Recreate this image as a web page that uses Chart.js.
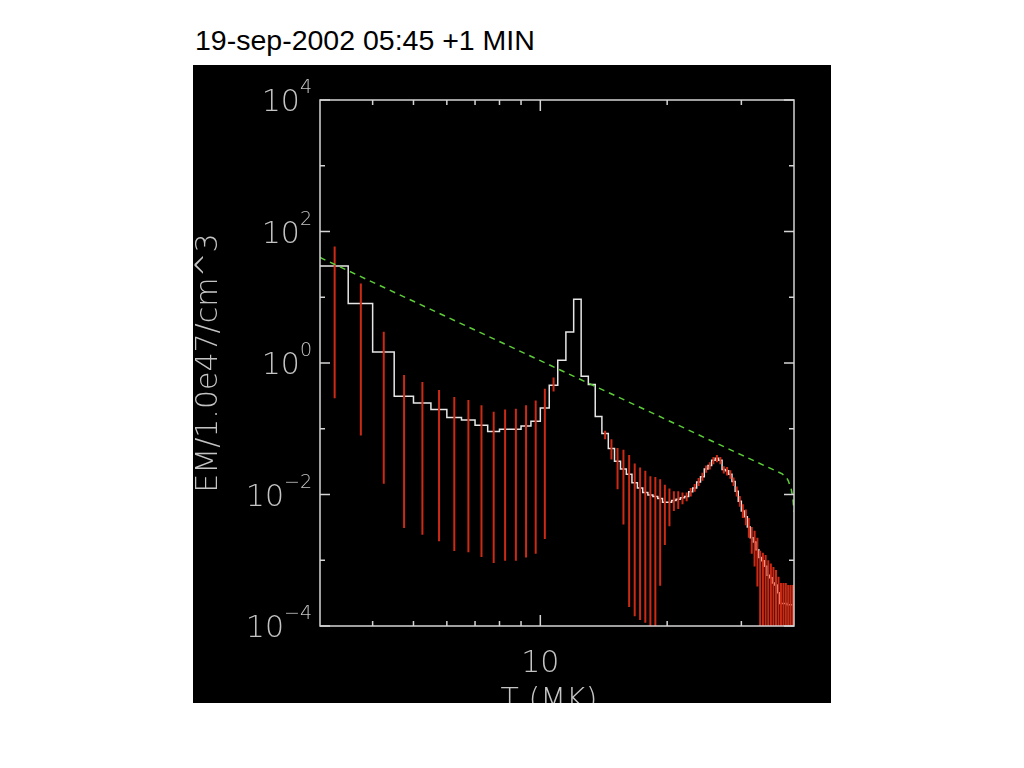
<!DOCTYPE html>
<html>
<head>
<meta charset="utf-8">
<script src="https://cdn.jsdelivr.net/npm/chart.js@4.4.1/dist/chart.umd.min.js"></script>
<style>
  html, body { margin: 0; background: #fff; }
  #title { position: absolute; left: 195px; top: 24px; font: 28.5px "Liberation Sans", Arial, sans-serif; color: #000; white-space: nowrap; }
  #plot { position: absolute; left: 193px; top: 65px; width: 638px; height: 638px; background: #000; }
</style>
</head>
<body>
<div id="title">19-sep-2002 05:45 +1 MIN</div>
<div id="plot"><canvas id="emChart" width="638" height="638"></canvas></div>
<script>
// bin centres (MK), bins are 0.5 MK wide
const binWidth = 0.5;
const tempMK = [3.25, 3.75, 4.25, 4.75, 5.25, 5.75, 6.25, 6.75, 7.25, 7.75,
    8.25, 8.75, 9.25, 9.75, 10.25, 10.75, 11.25, 11.75, 12.25, 12.75,
    13.25, 13.75, 14.25, 14.75, 15.25, 15.75, 16.25, 16.75, 17.25, 17.75,
    18.25, 18.75, 19.25, 19.75, 20.25, 20.75, 21.25, 21.75, 22.25, 22.75,
    23.25, 23.75, 24.25, 24.75, 25.25, 25.75, 26.25, 26.75, 27.25, 27.75,
    28.25, 28.75, 29.25, 29.75, 30.25, 30.75, 31.25, 31.75, 32.25, 32.75,
    33.25, 33.75, 34.25, 34.75, 35.25, 35.75, 36.25, 36.75, 37.25, 37.75,
    38.25, 38.75, 39.25, 39.75];

// EM per bin (units of 1e47 cm^-3)
const emValues = [29.9, 8.0, 1.47, 0.311, 0.246, 0.197, 0.148, 0.136, 0.113, 0.091,
    0.098, 0.098, 0.110, 0.130, 0.207, 0.458, 1.10, 2.96, 9.3, 0.63,
    0.469, 0.153, 0.085, 0.050, 0.032, 0.0245, 0.0204, 0.0151, 0.0126, 0.0107,
    0.0098, 0.0093, 0.0087, 0.0076, 0.0076, 0.0081, 0.0085, 0.0089, 0.0093, 0.0110,
    0.0126, 0.0155, 0.0186, 0.0245, 0.0275, 0.0331, 0.0355, 0.0331, 0.0240, 0.0229,
    0.0204, 0.0158, 0.0112, 0.0079, 0.0056, 0.0046, 0.0032, 0.0022, 0.0019, 0.00145,
    0.0011, 0.00098, 0.00081, 0.00059, 0.00054, 0.00045, 0.00042, 0.00032, 0.00022, 0.00022,
    0.00022, 0.00021, 0.00021, 0.00021];

// error bar ends
const errLow = [0.29, 0.079, 0.0146, 0.0031, 0.00245, 0.00195, 0.00138, 0.00132, 0.00112, 0.00091,
    0.00098, 0.00098, 0.0011, 0.00126, 0.0021, 0.367, 1.10, 2.96, 9.3, 0.63,
    0.469, 0.153, 0.069, 0.034, 0.012, 0.0035, 0.000195, 0.000141, 0.000123, 0.000112,
    0.00006, 0.00006, 0.00041, 0.0017, 0.0033, 0.0056, 0.0060, 0.0071, 0.0079, 0.0093,
    0.011, 0.0135, 0.0162, 0.0214, 0.024, 0.0288, 0.031, 0.0288, 0.0209, 0.0195,
    0.0174, 0.0135, 0.0093, 0.0065, 0.0044, 0.0034, 0.0022, 0.00126, 0.0008, 0.0004,
    0.00003, 0.00003, 0.00003, 0.00003, 0.00003, 0.00003, 0.00003, 0.00003, 0.00003, 0.00003,
    0.00003, 0.00003, 0.00003, 0.00003];
const errHigh = [59, 16.2, 3.0, 0.656, 0.514, 0.388, 0.304, 0.274, 0.227, 0.182,
    0.197, 0.202, 0.227, 0.270, 0.407, 0.60, 1.10, 2.96, 9.3, 0.63,
    0.469, 0.153, 0.093, 0.069, 0.051, 0.048, 0.040, 0.0295, 0.0257, 0.0229,
    0.019, 0.0184, 0.017, 0.0141, 0.0123, 0.0112, 0.0112, 0.0107, 0.0107, 0.0126,
    0.0145, 0.0178, 0.0214, 0.0275, 0.031, 0.0372, 0.040, 0.0372, 0.0269, 0.0263,
    0.0234, 0.0182, 0.0132, 0.0095, 0.0071, 0.0059, 0.0044, 0.0032, 0.0028, 0.0022,
    0.0014, 0.0013, 0.0012, 0.0010, 0.00089, 0.00079, 0.00071, 0.00056, 0.00045, 0.00045,
    0.00045, 0.00042, 0.00042, 0.00042];

// green dashed curve
const fitT = [3.0, 10, 20, 30, 37.5, 38.4, 38.8, 39.4, 39.75, 40.0];
const fitEM = [40.2, 1.085, 0.136, 0.040, 0.0206, 0.0180, 0.0160, 0.0120, 0.0090, 0.0055];

// axis ticks
const xRange = [3, 40];
const yRange = [1e-4, 1e4];
const xMajorTicks = [10];
const xMinorTicks = [4, 5, 6, 7, 8, 9, 20, 30];
const yMajorExp = [-4, -2, 0, 2, 4];
const yMinorExp = [-3, -1, 1, 3];

const axisColor = '#d4d4d4';
const labelColor = '#c4c4c4';
const thinFont = '"DejaVu Sans", sans-serif';

document.addEventListener('DOMContentLoaded', () => {
    const ctx = document.getElementById('emChart').getContext('2d');

    // histogram: one point per left bin edge, plus the closing right edge
    const stepData = tempMK.map((t, i) => ({ x: t - binWidth / 2, y: emValues[i] }));
    stepData.push({ x: tempMK[tempMK.length - 1] + binWidth / 2, y: emValues[emValues.length - 1] });

    const errData = [];
    tempMK.forEach((t, i) => {
        errData.push({ x: t, y: errLow[i] }, { x: t, y: errHigh[i] }, { x: t, y: null });
    });

    const fitData = fitT.map((t, i) => ({ x: t, y: fitEM[i] }));

    // IDL style box, inward ticks and labels
    const idlFrame = {
        id: 'idlFrame',
        afterDatasetsDraw(chart) {
            const { ctx, chartArea: a, scales: { x, y } } = chart;
            ctx.save();
            ctx.strokeStyle = axisColor;
            ctx.lineWidth = 1.5;
            ctx.strokeRect(a.left, a.top, a.right - a.left, a.bottom - a.top);

            ctx.beginPath();
            const xTick = (v, len) => {
                const px = x.getPixelForValue(v);
                ctx.moveTo(px, a.bottom); ctx.lineTo(px, a.bottom - len);
                ctx.moveTo(px, a.top); ctx.lineTo(px, a.top + len);
            };
            const yTick = (v, len) => {
                const py = y.getPixelForValue(v);
                ctx.moveTo(a.left, py); ctx.lineTo(a.left + len, py);
                ctx.moveTo(a.right, py); ctx.lineTo(a.right - len, py);
            };
            xMajorTicks.forEach(v => xTick(v, 11));
            xMinorTicks.forEach(v => xTick(v, 5));
            yMajorExp.forEach(e => yTick(Math.pow(10, e), 10));
            yMinorExp.forEach(e => yTick(Math.pow(10, e), 5));
            ctx.stroke();

            ctx.fillStyle = labelColor;
            const baseFont = '200 30px ' + thinFont;
            const expFont = '200 19px ' + thinFont;

            // y labels 10^n
            yMajorExp.forEach(e => {
                const py = y.getPixelForValue(Math.pow(10, e));
                const expText = String(e).replace('-', '\u2212');
                ctx.font = expFont;
                const wExp = ctx.measureText(expText).width;
                ctx.font = baseFont;
                const wBase = ctx.measureText('10').width;
                const right = a.left - 8;
                ctx.textAlign = 'left';
                ctx.textBaseline = 'alphabetic';
                ctx.fillText('10', right - wExp - wBase, py + 11);
                ctx.font = expFont;
                ctx.fillText(expText, right - wExp, py - 7);
            });

            // x labels
            ctx.font = baseFont;
            ctx.textAlign = 'center';
            xMajorTicks.forEach(v => {
                ctx.fillText(String(v), x.getPixelForValue(v), a.bottom + 46);
            });

            // axis titles
            ctx.fillText('T (MK)', (a.left + a.right) / 2 - 8, a.bottom + 83);
            ctx.translate(24, (a.top + a.bottom) / 2);
            ctx.rotate(-Math.PI / 2);
            ctx.fillText('EM/1.0e47/cm^3', 0, 0);
            ctx.restore();
        }
    };

    new Chart(ctx, {
        type: 'line',
        data: {
            datasets: [
                {
                    label: 'fit',
                    data: fitData,
                    borderColor: '#5ccc38',
                    borderWidth: 1.5,
                    borderDash: [6, 5],
                    pointRadius: 0,
                    tension: 0,
                },
                {
                    label: 'errors',
                    data: errData,
                    borderColor: '#cc2a14',
                    borderWidth: 2,
                    pointRadius: 0,
                    spanGaps: false,
                },
                {
                    label: 'EM',
                    data: stepData,
                    borderColor: '#e6e6e6',
                    borderWidth: 1.5,
                    pointRadius: 0,
                    stepped: 'before',
                },
            ],
        },
        options: {
            responsive: false,
            animation: false,
            events: [],
            layout: { padding: { left: 127, top: 35, right: 37, bottom: 77 } },
            plugins: { legend: { display: false }, tooltip: { enabled: false } },
            scales: {
                x: { type: 'logarithmic', min: xRange[0], max: xRange[1], display: false },
                y: { type: 'logarithmic', min: yRange[0], max: yRange[1], display: false },
            },
        },
        plugins: [idlFrame],
    });
});
</script>
</body>
</html>
